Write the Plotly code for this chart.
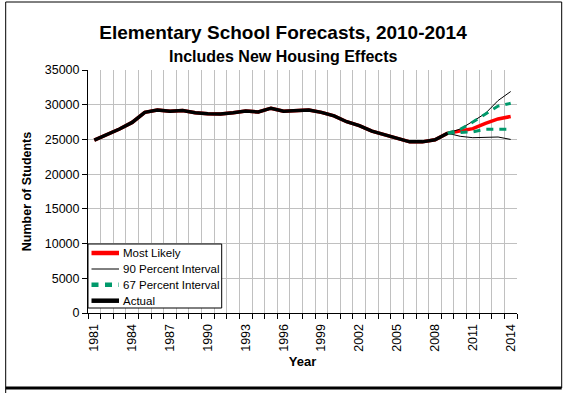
import plotly.graph_objects as go

# ---- data ----
years = [1981, 1982, 1983, 1984, 1985, 1986, 1987, 1988, 1989, 1990,
         1991, 1992, 1993, 1994, 1995, 1996, 1997, 1998, 1999, 2000,
         2001, 2002, 2003, 2004, 2005, 2006, 2007, 2008, 2009, 2010,
         2011, 2012, 2013, 2014]
actual_years = years[:29]
actual = [24900, 25700, 26500, 27450, 28900, 29250, 29050, 29150, 28850, 28700,
          28650, 28850, 29100, 28950, 29500, 29050, 29100, 29250, 28900, 28400,
          27550, 27000, 26200, 25650, 25100, 24650, 24650, 24950, 25900]
forecast_years = [2009, 2010, 2011, 2012, 2013, 2014]
most_likely = [25900, 26200, 26550, 27300, 27950, 28300]
upper90 = [25900, 26500, 27600, 28750, 30600, 31900]
lower90 = [25900, 25450, 25250, 25250, 25350, 25000]
upper67 = [25900, 26450, 27500, 28700, 29800, 30200]
lower67 = [25900, 25950, 26100, 26450, 26500, 26450]
tick_years = [1981, 1984, 1987, 1990, 1993, 1996, 1999, 2002, 2005, 2008, 2011, 2014]
legend_labels = ["Most Likely", "90 Percent Interval", "67 Percent Interval", "Actual"]

FONT = "Liberation Sans, Arial, sans-serif"
GREEN = "#00996b"
RED = "#ff0000"

# plot-area pixel geometry (for decorations only)
L, R, T, B = 88, 517, 70, 313


def px_x(p):
    return (p - L) / (R - L)


def px_y(p):
    return (B - p) / (B - T)


fig = go.Figure()
fig.add_trace(go.Scatter(x=years, y=actual + most_likely[1:], mode="lines",
                         name=legend_labels[0], line=dict(color=RED, width=3.5)))
fig.add_trace(go.Scatter(x=forecast_years, y=upper90, mode="lines", name=legend_labels[1],
                         line=dict(color="black", width=1)))
fig.add_trace(go.Scatter(x=forecast_years, y=lower90, mode="lines", name=legend_labels[1],
                         line=dict(color="black", width=1)))
fig.add_trace(go.Scatter(x=forecast_years, y=upper67, mode="lines", name=legend_labels[2],
                         line=dict(color=GREEN, width=3, dash="7px,6px")))
fig.add_trace(go.Scatter(x=forecast_years, y=lower67, mode="lines", name=legend_labels[2],
                         line=dict(color=GREEN, width=3, dash="7px,6px")))
fig.add_trace(go.Scatter(x=actual_years, y=actual, mode="lines", name=legend_labels[3],
                         line=dict(color="black", width=3.5)))

minor_vals = [y - 0.5 for y in years] + [years[-1] + 0.5]

fig.update_layout(
    width=566, height=393,
    margin=dict(l=L, r=566 - R, t=T, b=393 - B, pad=0),
    paper_bgcolor="white", plot_bgcolor="white",
    font=dict(family=FONT, color="black"),
    title=dict(text="<b>Elementary School Forecasts, 2010-2014</b>",
               font=dict(size=19, family=FONT, color="black"),
               xref="container", x=0.5, xanchor="center",
               yref="container", y=1 - 32 / 393, yanchor="middle"),
    showlegend=False,
    xaxis=dict(range=[1980.5, 2014.5], tickmode="array", tickvals=tick_years,
               ticktext=[str(t) for t in tick_years], tickangle=-90,
               ticks="outside", ticklen=5, tickcolor="rgba(0,0,0,0)",
               showgrid=False, zeroline=False,
               showline=True, linecolor="black", linewidth=1,
               tickfont=dict(size=12.5, family=FONT, color="black"),
               minor=dict(tickmode="array", tickvals=minor_vals, ticks="outside", ticklen=5,
                          tickcolor="black", showgrid=True, gridcolor="#c0c0c0", gridwidth=1),
               title=dict(text="<b>Year</b>", font=dict(size=13, family=FONT, color="black"),
                          standoff=6)),
    yaxis=dict(range=[0, 35000], tickmode="linear", tick0=0, dtick=5000, tickformat="d",
               ticks="outside", ticklen=5, tickcolor="black",
               showgrid=True, gridcolor="#c0c0c0", gridwidth=1, zeroline=False,
               showline=True, linecolor="black", linewidth=1,
               tickfont=dict(size=12.5, family=FONT, color="black"),
               title=dict(text="<b>Number of Students</b>",
                          font=dict(size=12.5, family=FONT, color="black"), standoff=10)),
)

fig.add_annotation(text="<b>Includes New Housing Effects</b>", xref="paper", yref="paper",
                   x=px_x(283.7), y=px_y(56), xanchor="center", yanchor="middle",
                   showarrow=False, font=dict(size=16, family=FONT, color="black"))

# ---- manual legend (decoration) ----
fig.add_shape(type="rect", xref="paper", yref="paper",
              x0=px_x(88), x1=px_x(221.7), y0=px_y(308), y1=px_y(244),
              line=dict(color="black", width=1), fillcolor="white", layer="above")
rows = [253, 269, 284.7, 300.7]
styles = [
    dict(color=RED, width=4.5),
    dict(color="black", width=1),
    dict(color=GREEN, width=4.5, dash="7px,6.5px"),
    dict(color="black", width=4.5),
]
for lab, ry, st in zip(legend_labels, rows, styles):
    fig.add_shape(type="line", xref="paper", yref="paper",
                  x0=px_x(91.5), x1=px_x(119), y0=px_y(ry), y1=px_y(ry),
                  line=st, layer="above")
    fig.add_annotation(text=lab, xref="paper", yref="paper", x=px_x(120.5), y=px_y(ry),
                       xanchor="left", yanchor="middle", showarrow=False,
                       font=dict(size=11.5, family=FONT, color="black"))

# ---- chart frame ----
frame = [
    (5.7, 2, 561.7, 2, 1),
    (5.7, 2, 5.7, 393, 1),
    (561.7, 2, 561.7, 388, 1),
    (5.7, 388, 561.7, 388, 3),
]
for x0, y0, x1, y1, w in frame:
    fig.add_shape(type="line", xref="paper", yref="paper",
                  x0=px_x(x0), y0=px_y(y0), x1=px_x(x1), y1=px_y(y1),
                  line=dict(color="black", width=w))

fig.write_html("out.html", config={"displayModeBar": False},
               post_script="document.body.style.margin='0';document.body.style.overflow='hidden';")
